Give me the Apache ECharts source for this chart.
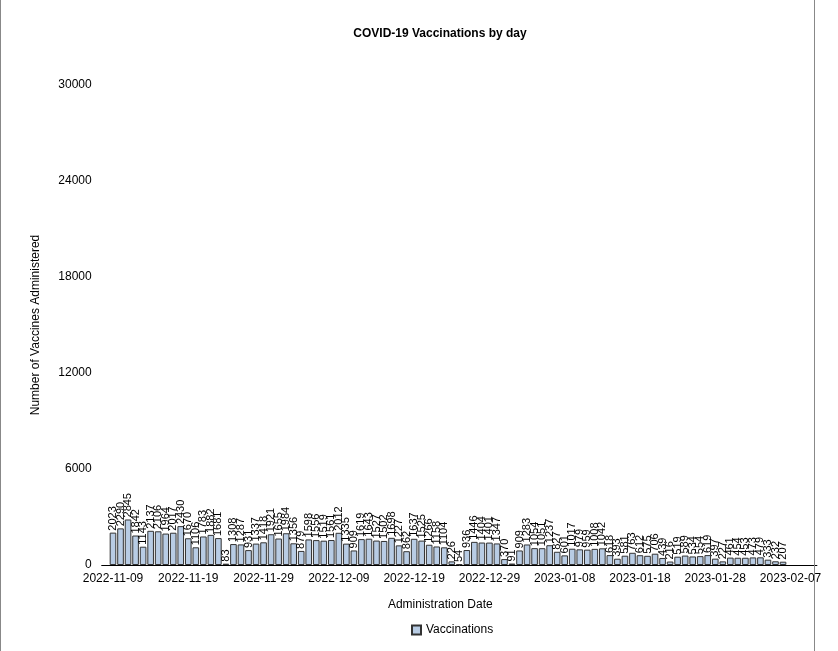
<!DOCTYPE html>
<html><head><meta charset="utf-8">
<script src="https://cdn.jsdelivr.net/npm/echarts@6/dist/echarts.min.js"></script>
<style>html,body{margin:0;padding:0;background:#fff;}
#wrap{position:relative;width:838px;height:651px;}
#c{width:838px;height:651px;}
#frame{position:absolute;left:0;top:0;width:815px;height:651px;border-left:1px solid #888;border-right:1px solid #888;box-sizing:border-box;pointer-events:none;}
</style>
</head><body><div id="wrap"><div id="c"></div><div id="frame"></div></div>
<script>
const startDate = '2022-11-08';
const numDays = 95;
const seriesName = 'Vaccinations';
const vaccinations = [
  null,
  2023,2290,2845,1842,1143,2137,2106,1964,2017,2430,
  1670,1106,1783,1882,1681,83,1308,1287,931,1337,
  1418,1921,1655,1984,1356,879,1598,1556,1519,1561,
  2012,1335,909,1619,1643,1527,1502,1698,1227,862,
  1637,1525,1266,1158,1104,226,54,936,1446,1404,
  1401,1347,370,91,909,1283,1054,1051,1237,827,
  601,1017,979,959,1008,1042,618,393,581,763,
  612,575,706,439,216,519,589,534,554,619,
  397,227,461,454,453,473,479,333,232,207
];
const yTicks = [0,6000,12000,18000,24000,30000];

const dates = [];
{
  const d0 = new Date(startDate + 'T00:00:00Z');
  for (let i = 0; i < numDays; i++) {
    const d = new Date(d0.getTime() + i * 86400000);
    dates.push(d.toISOString().slice(0,10));
  }
}
const tickFn = (i) => (i - 1) % 10 === 0;

const chart = echarts.init(document.getElementById('c'));
chart.setOption({
  animation: false,
  textStyle: {fontFamily: 'Liberation Sans, Arial, sans-serif'},
  title: {text: 'COVID-19 Vaccinations by day', left: 435, top: 23, textAlign: 'center',
    textStyle: {fontSize: 12, fontWeight: 'bold', color: '#000'}},
  legend: {bottom: 10, left: 406, itemWidth: 9, itemHeight: 9, icon: 'rect', itemGap: 6,
    textStyle: {fontSize: 12, color: '#000'}, data: [seriesName]},
  grid: {left: 101.7, right: 838 - 816.9, top: 85, bottom: 651 - 565},
  xAxis: {type: 'category', data: dates,
    name: 'Administration Date', nameLocation: 'middle', nameGap: 34,
    nameTextStyle: {fontSize: 12, color: '#000', padding: [0, 38, 0, 0]},
    axisLine: {lineStyle: {color: '#000'}},
    axisTick: {interval: tickFn, alignWithLabel: true, length: 5, lineStyle: {color: '#000'}},
    axisLabel: {interval: tickFn, fontSize: 12, color: '#000', margin: 8}},
  yAxis: {type: 'value', min: yTicks[0], max: yTicks[yTicks.length-1], interval: 6000,
    name: 'Number of Vaccines Administered', nameLocation: 'middle', nameGap: 60,
    nameTextStyle: {fontSize: 12, color: '#000'},
    axisLine: {show: false}, axisTick: {show: false}, splitLine: {show: false},
    axisLabel: {fontSize: 12, color: '#000', margin: 10, formatter: (v) => String(v)}},
  series: [{
    name: seriesName, type: 'bar', data: vaccinations, barCategoryGap: '12%',
    itemStyle: {color: '#B8CCE4', borderColor: '#333', borderWidth: 1},
    label: {show: true, position: 'top', rotate: 90, align: 'left', verticalAlign: 'middle',
      distance: 2, fontSize: 11, color: '#000'}
  }]
});
</script></body></html>
